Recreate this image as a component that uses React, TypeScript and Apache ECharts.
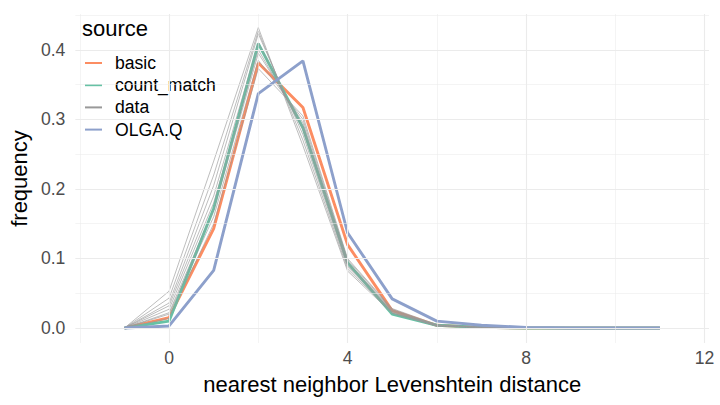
import React, { useEffect, useRef } from "react";
import * as echarts from "echarts";

const xs = [-1, 0, 1, 2, 3, 4, 5, 6, 7, 8, 9, 10, 11];
const basic = [0, 0.015, 0.143, 0.381, 0.317, 0.12, 0.025, 0.004, 0.001, 0, 0, 0, 0];
const countMatch = [0, 0.01, 0.172, 0.409, 0.288, 0.094, 0.02, 0.004, 0.001, 0, 0, 0, 0];
const olgaQ = [0, 0.003, 0.083, 0.337, 0.384, 0.137, 0.042, 0.01, 0.004, 0.001, 0, 0, 0];
const dataRuns = [
  [0, 0.053, 0.24, 0.432, 0.262, 0.082, 0.021, 0.003, 0.001, 0, 0, 0, 0],
  [0, 0.043, 0.22, 0.427, 0.27, 0.085, 0.022, 0.003, 0.001, 0, 0, 0, 0],
  [0, 0.036, 0.205, 0.423, 0.278, 0.088, 0.023, 0.003, 0.001, 0, 0, 0, 0],
  [0, 0.032, 0.19, 0.41, 0.285, 0.09, 0.024, 0.004, 0.001, 0, 0, 0, 0],
  [0, 0.027, 0.18, 0.4, 0.29, 0.093, 0.025, 0.004, 0.001, 0, 0, 0, 0],
  [0, 0.022, 0.17, 0.395, 0.295, 0.095, 0.026, 0.004, 0.001, 0, 0, 0, 0],
  [0, 0.02, 0.16, 0.385, 0.3, 0.098, 0.027, 0.004, 0.001, 0, 0, 0, 0],
  [0, 0.014, 0.15, 0.373, 0.305, 0.1, 0.028, 0.005, 0.001, 0, 0, 0, 0],
];
const xMajor = [0, 4, 8, 12];
const xMinor = [-2, 2, 6, 10];
const yMajor = [0, 0.1, 0.2, 0.3, 0.4];
const yMinor = [0.05, 0.15, 0.25, 0.35, 0.45];
const legendNames = ["basic", "count_match", "data", "OLGA.Q"];

const FONT = "Liberation Sans";
const GRID = "#EBEBEB";

export default function App() {
  const ref = useRef<HTMLDivElement>(null);
  useEffect(() => {
    document.body.style.margin = "0";
    if (!ref.current) return;
    const chart = echarts.init(ref.current, null, { renderer: "svg" });
    const pairs = (ys: number[]) => xs.map((x, i) => [x, ys[i]]);
    const gridLines: any[] = [
      ...xMajor.map((v) => ({ xAxis: v, lineStyle: { width: 1.1 } })),
      ...xMinor.map((v) => ({ xAxis: v, lineStyle: { width: 0.55 } })),
      ...yMajor.map((v) => ({ yAxis: v, lineStyle: { width: 1.1 } })),
      ...yMinor.map((v) => ({ yAxis: v, lineStyle: { width: 0.55 } })),
    ];
    const lineSeries = (name: string, ys: number[], color: string, width: number) => ({
      type: "line",
      name,
      data: pairs(ys),
      showSymbol: false,
      symbol: "none",
      lineStyle: { color, width },
      itemStyle: { color },
      z: 3,
    });
    chart.setOption({
      animation: false,
      backgroundColor: "#ffffff",
      title: {
        text: "source",
        left: 77,
        top: 12,
        textStyle: { fontFamily: FONT, fontSize: 22, fontWeight: "normal", color: "#000" },
      },
      legend: {
        data: legendNames,
        orient: "vertical",
        left: 80,
        top: 49,
        icon: "rect",
        itemWidth: 17,
        itemHeight: 2,
        itemGap: 4.2,
        textStyle: { fontFamily: FONT, fontSize: 17.6, color: "#000", lineHeight: 17.6, padding: [0, 0, 0, 8] },
      },
      grid: { left: 72, right: 11, top: 14, bottom: 62 },
      xAxis: {
        type: "value",
        min: -2.1,
        max: 12.1,
        name: "nearest neighbor Levenshtein distance",
        nameLocation: "middle",
        nameGap: 30,
        nameTextStyle: { fontFamily: FONT, fontSize: 22, color: "#000" },
        axisLine: { show: false },
        axisTick: { show: false },
        splitLine: { show: false },
        axisLabel: {
          customValues: xMajor,
          fontFamily: FONT,
          fontSize: 17.6,
          color: "#4D4D4D",
          margin: 6,
        },
      },
      yAxis: {
        type: "value",
        min: -0.0215,
        max: 0.4515,
        name: "frequency",
        nameLocation: "middle",
        nameGap: 42,
        nameTextStyle: { fontFamily: FONT, fontSize: 22, color: "#000" },
        axisLine: { show: false },
        axisTick: { show: false },
        splitLine: { show: false },
        axisLabel: {
          customValues: yMajor,
          formatter: (v: number) => v.toFixed(1),
          fontFamily: FONT,
          fontSize: 17.6,
          color: "#4D4D4D",
          margin: 10,
        },
      },
      series: [
        {
          type: "line",
          name: "_grid",
          data: [],
          z: 0,
          silent: true,
          markLine: {
            silent: true,
            symbol: ["none", "none"],
            label: { show: false },
            lineStyle: { color: GRID, type: "solid" },
            data: gridLines,
          },
        },
        lineSeries("basic", basic, "#FC8D62", 2.9),
        lineSeries("count_match", countMatch, "#66C2A5", 2.9),
        ...dataRuns.map((d) => lineSeries("data", d, "#999999", 0.65)),
        lineSeries("OLGA.Q", olgaQ, "#8DA0CB", 2.9),
      ],
    });
    return () => chart.dispose();
  }, []);
  return <div ref={ref} style={{ width: 720, height: 405 }} />;
}
